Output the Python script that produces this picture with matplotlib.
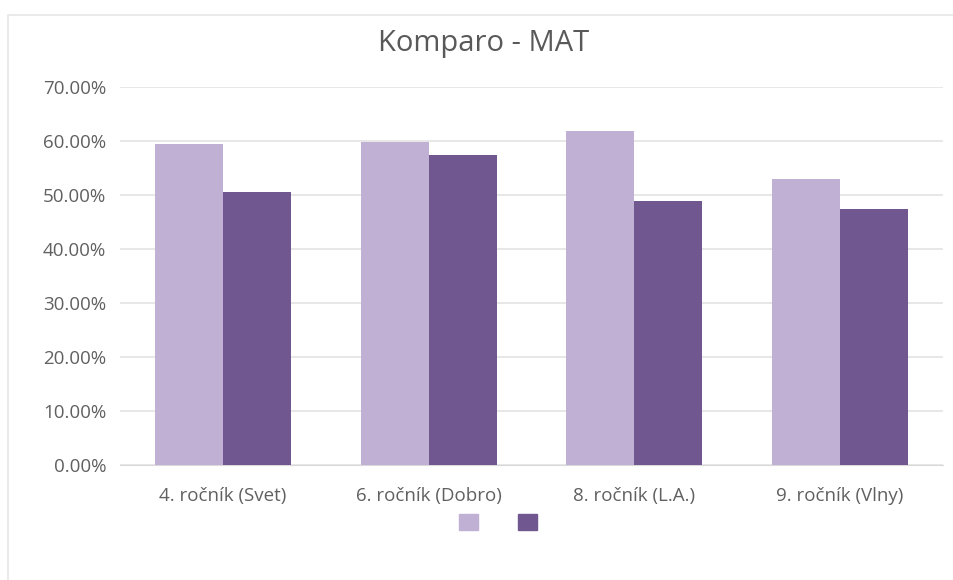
import matplotlib.pyplot as plt
import numpy as np
from matplotlib.lines import Line2D
from matplotlib.patches import Patch
from matplotlib.ticker import FuncFormatter

categories = ['4. ročník (Svet)', '6. ročník (Dobro)', '8. ročník (L.A.)', '9. ročník (Vlny)']
series_a = [0.594, 0.598, 0.619, 0.529]   # light bars
series_b = [0.506, 0.574, 0.489, 0.474]   # dark bars
yticks = [0.0, 0.1, 0.2, 0.3, 0.4, 0.5, 0.6, 0.7]

light = '#c0b1d4'
dark = '#70578f'
grey = '#595959'

plt.rcParams['font.family'] = ['Open Sans', 'DejaVu Sans']

fig = plt.figure(figsize=(9.54, 5.8), dpi=100)
# chart frame: only the left and top edges are visible in the crop
fig.lines.append(Line2D([8.5 / 954, 8.5 / 954, 1.0], [0, 1 - 14.5 / 580, 1 - 14.5 / 580],
                        transform=fig.transFigure, color='#e6e6e6', linewidth=1.2))
ax = fig.add_axes([120 / 954, 1 - 465 / 580, (943 - 120) / 954, (465 - 87) / 580])

x = np.arange(len(categories))
w = 0.33
ax.bar(x - w / 2, series_a, w, color=light, zorder=3)
ax.bar(x + w / 2, series_b, w, color=dark, zorder=3)

ax.set_xlim(-0.5, len(categories) - 0.5)
ax.set_ylim(0, 0.7)
ax.set_yticks(yticks)
ax.yaxis.set_major_formatter(FuncFormatter(lambda v, p: f'{v * 100:.2f}%'))
ax.set_xticks(x)
ax.set_xticklabels(categories)
ax.tick_params(axis='both', length=0, labelsize=13.5, labelcolor='#606060')
ax.tick_params(axis='x', pad=16)
ax.tick_params(axis='y', pad=10)
ax.grid(axis='y', color='#e3e3e3', linewidth=1.2, zorder=0)
for s in ['top', 'right', 'left']:
    ax.spines[s].set_visible(False)
ax.spines['bottom'].set_color('#d9d9d9')

fig.text(484 / 954, 1 - 44 / 580, 'Komparo - MAT', ha='center', va='center',
         fontsize=21, color=grey)

handles = [Patch(color=light), Patch(color=dark)]
fig.legend(handles, [' ', ' '], loc='center', bbox_to_anchor=(503 / 954, 1 - 522 / 580),
           ncol=2, frameon=False, fontsize=10, handlelength=1.37, handleheight=1.37,
           columnspacing=2.1, handletextpad=0.5)

plt.savefig('out.png', dpi=100)
